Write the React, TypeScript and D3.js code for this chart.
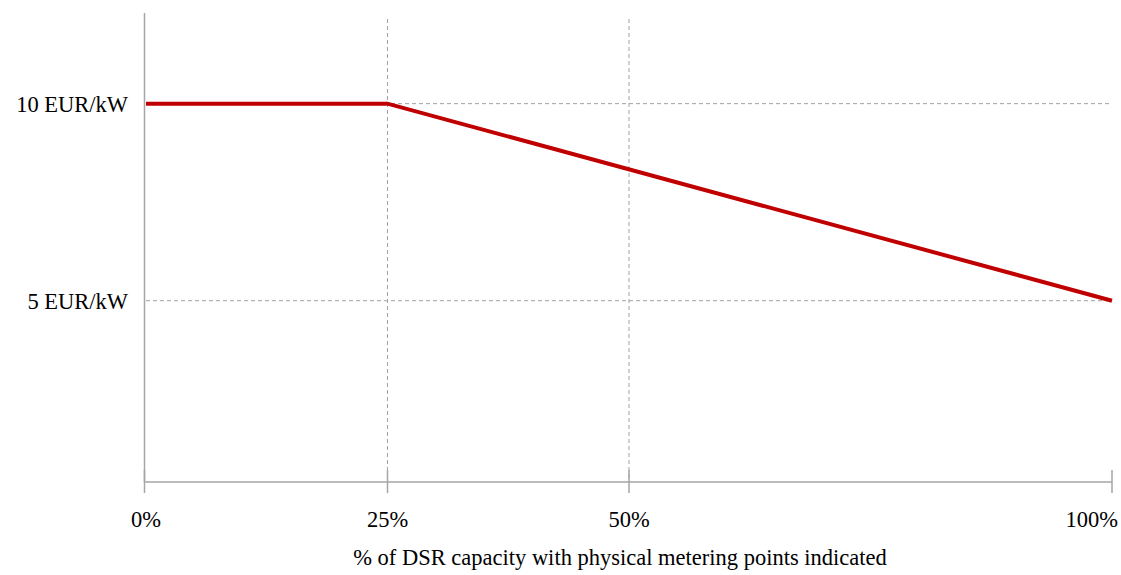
import * as d3 from "d3";

const dms = {
  width: 1121,
  height: 575,
  marginTop: 13,
  marginRight: 9,
  marginBottom: 93,
  marginLeft: 146,
};

// chart values
const xTicks = [0, 25, 50, 100];
const xTickLabels = ["0%", "25%", "50%", "100%"];
const xGrid = [25, 50];
const yTicks = [10, 5];
const yTickLabels = ["10 EUR/kW", "5 EUR/kW"];
const sharePct = [0, 25, 100];
const priceEur = [10, 10, 5];
const xTitle = "% of DSR capacity with physical metering points indicated";

const font = "Liberation Serif, DejaVu Serif, serif";
const axisColor = "#a6a6a6";
const gridColor = "#a0a0a0";
const lineColor = "#c00000";

const App = () => {
  const xScale = d3
    .scaleLinear()
    .domain([0, 100])
    .range([dms.marginLeft, dms.width - dms.marginRight]);
  const yScale = d3
    .scaleLinear()
    .domain([0.4, 12.3])
    .range([dms.height - dms.marginBottom, dms.marginTop]);

  const x0 = xScale(0);
  const x1 = xScale(100);
  const yBase = yScale(0.4);
  const gridTop = dms.marginTop + 6;

  const pts = sharePct.map((d, i) => [d, priceEur[i]] as [number, number]);
  const line = d3
    .line<[number, number]>()
    .x((d) => xScale(d[0]))
    .y((d) => yScale(d[1]));

  const txt = { fontFamily: font, fontSize: "22.5px", fill: "#000" };

  return (
    <div style={{ position: "absolute", left: 0, top: 0 }}>
      <svg width={dms.width} height={dms.height} style={{ display: "block", background: "#fff" }}>
        {/* horizontal dashed grid */}
        {yTicks.map((t) => (
          <line
            key={"hg" + t}
            x1={x0}
            x2={x1}
            y1={yScale(t)}
            y2={yScale(t)}
            stroke={gridColor}
            strokeWidth={1}
            strokeDasharray="4,3"
          />
        ))}
        {/* vertical dashed grid */}
        {xGrid.map((t) => (
          <line
            key={"vg" + t}
            x1={xScale(t)}
            x2={xScale(t)}
            y1={gridTop}
            y2={yBase}
            stroke={gridColor}
            strokeWidth={1}
            strokeDasharray="4,3"
          />
        ))}

        {/* axes */}
        <line x1={x0 - 1.5} x2={x0 - 1.5} y1={dms.marginTop} y2={yBase} stroke={axisColor} strokeWidth={1.5} />
        <line x1={x0 - 1.5} x2={x1} y1={yBase} y2={yBase} stroke={axisColor} strokeWidth={1.5} />
        {xTicks.map((t, i) => (
          <line
            key={"xt" + t}
            x1={i === 0 ? xScale(t) - 1.5 : xScale(t)}
            x2={i === 0 ? xScale(t) - 1.5 : xScale(t)}
            y1={yBase - 12}
            y2={yBase + 11}
            stroke={axisColor}
            strokeWidth={1.5}
          />
        ))}

        {/* price line */}
        <path d={line(pts) ?? ""} fill="none" stroke={lineColor} strokeWidth={4} />

        {/* y labels */}
        {yTicks.map((t, i) => (
          <text key={"yl" + t} x={x0 - 18} y={yScale(t) + 8} textAnchor="end" style={txt}>
            {yTickLabels[i]}
          </text>
        ))}

        {/* x labels */}
        {xTicks.map((t, i) => {
          const last = i === xTicks.length - 1;
          return (
            <text
              key={"xl" + t}
              x={last ? xScale(t) + 6 : xScale(t)}
              y={yBase + 45}
              textAnchor={last ? "end" : "middle"}
              style={txt}
            >
              {xTickLabels[i]}
            </text>
          );
        })}

        <text x={(x0 + x1) / 2 - 9} y={yBase + 83} textAnchor="middle" style={txt}>
          {xTitle}
        </text>
      </svg>
    </div>
  );
};

export default App;
